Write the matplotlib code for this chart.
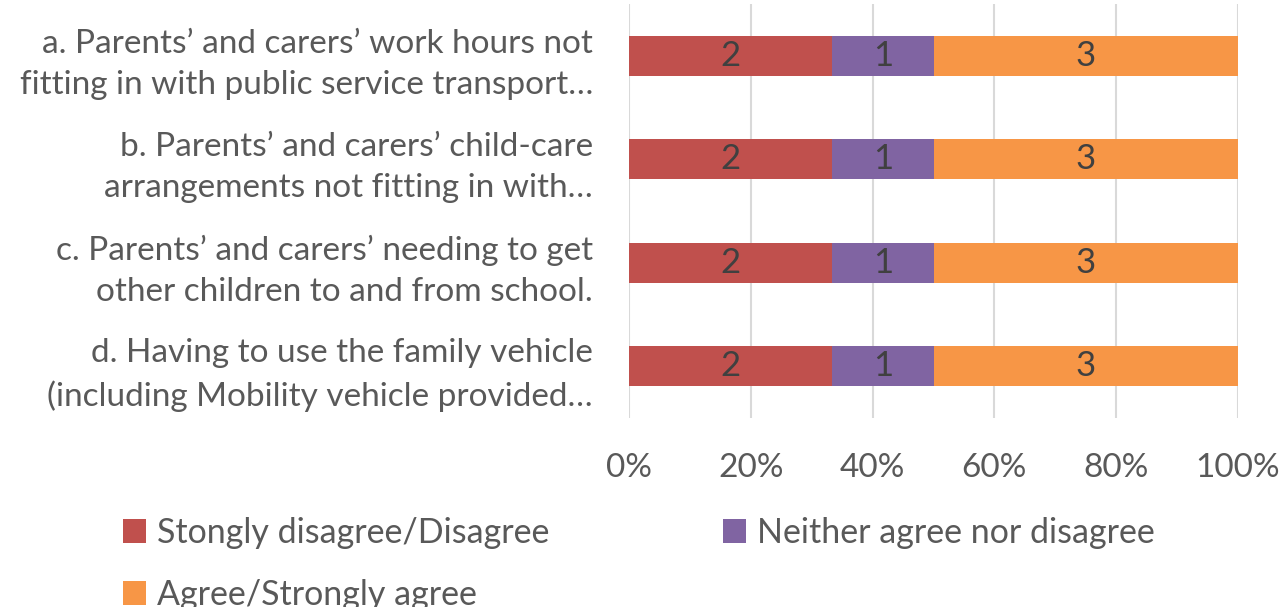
import matplotlib.pyplot as plt
import numpy as np

categories = [
    "a. Parents\u2019 and carers\u2019 work hours not\nfitting in with public service transport\u2026",
    "b. Parents\u2019 and carers\u2019 child-care\narrangements not fitting in with\u2026",
    "c. Parents\u2019 and carers\u2019 needing to get\nother children to and from school.",
    "d. Having to use the family vehicle\n(including Mobility vehicle provided\u2026",
]
series_names = ["Stongly disagree/Disagree", "Neither agree nor disagree", "Agree/Strongly agree"]
disagree = [2, 2, 2, 2]
neither = [1, 1, 1, 1]
agree = [3, 3, 3, 3]
colors = ["#C0504D", "#8064A2", "#F79646"]

plt.rcParams["font.family"] = ["Lato", "DejaVu Sans"]

counts = np.array([disagree, neither, agree], dtype=float)
shares = counts / counts.sum(axis=0)

fig = plt.figure(figsize=(12.83, 6.07), dpi=100)
ax = fig.add_axes([629 / 1283, 1 - 418 / 607, (1238 - 629) / 1283, 414 / 607])

y = np.arange(len(categories))
left = np.zeros(len(categories))
for name, vals, share, col in zip(series_names, counts, shares, colors):
    bars = ax.barh(y, share, left=left, height=0.39, color=col, label=name, zorder=3)
    ax.bar_label(bars, labels=[f"{int(v)}" for v in vals], label_type="center",
                 fontsize=25, color="#404040")
    left += share

ax.set_ylim(len(categories) - 0.5, -0.5)
ax.set_xlim(0, 1)
ax.set_xticks(np.linspace(0, 1, 6))
ax.set_xticklabels([f"{int(t * 100)}%" for t in np.linspace(0, 1, 6)])
ax.set_yticks(y)
ax.set_yticklabels(categories, ha="right", multialignment="right", linespacing=1.45)
ax.tick_params(axis="both", length=0, colors="#595959")
ax.tick_params(axis="x", pad=25, labelsize=24)
ax.tick_params(axis="y", pad=26, labelsize=24)
ax.grid(axis="x", color="#D9D9D9", linewidth=1.5, zorder=0)
for s in ax.spines.values():
    s.set_visible(False)

# legend fills row by row in the reference
handles, labels = ax.get_legend_handles_labels()
order = [0, 2, 1]
leg = fig.legend([handles[i] for i in order], [labels[i] for i in order],
                 loc="upper left", bbox_to_anchor=(92 / 1283, 1 - 486 / 607),
                 ncol=2, frameon=False, fontsize=24.5, handlelength=0.7, handleheight=0.7,
                 columnspacing=5.1, handletextpad=0.3, labelspacing=0.9)
for t in leg.get_texts():
    t.set_color("#595959")

fig.savefig("out.png", dpi=100)
